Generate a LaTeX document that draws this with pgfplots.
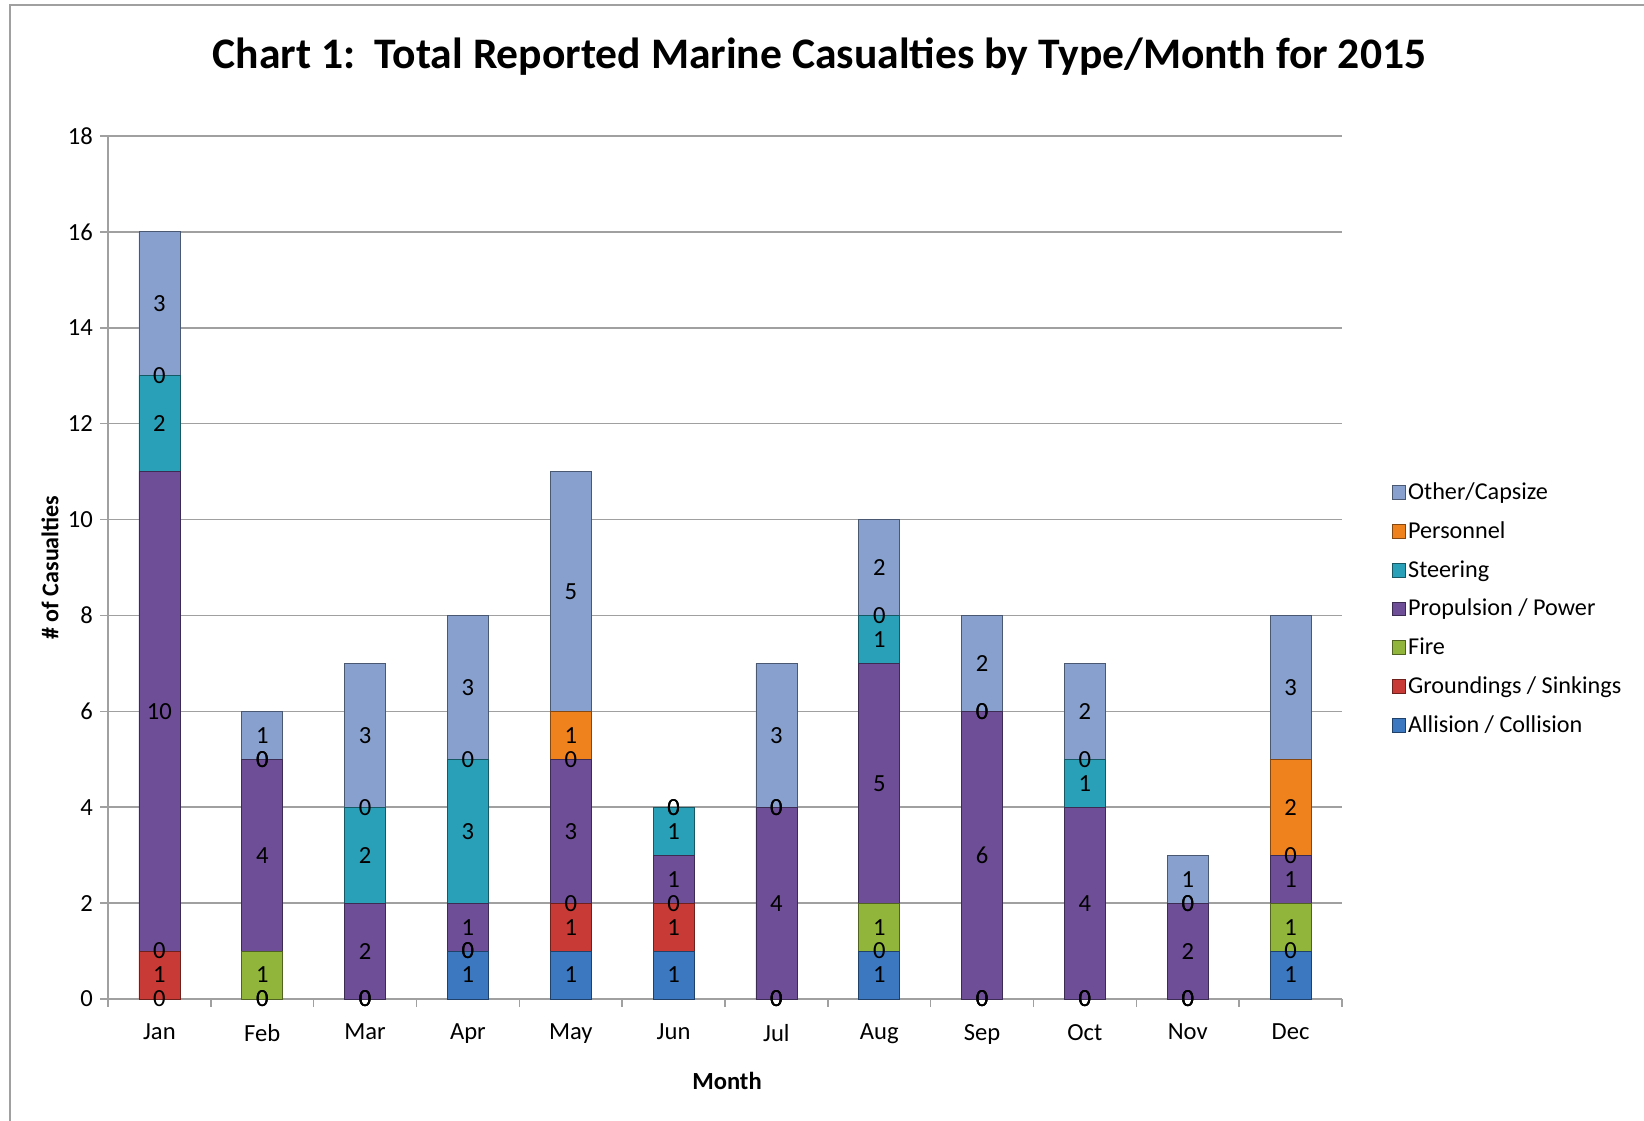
\documentclass[border=0pt]{standalone}
\usepackage{pgfplots}
\pgfplotsset{compat=1.18}
\usepackage{pgfplotstable}
\usepackage{fontspec}
\setmainfont{Carlito}
\definecolor{cAll}{HTML}{3B78C0}
\definecolor{cGro}{HTML}{C83A35}
\definecolor{cFir}{HTML}{91B43A}
\definecolor{cPro}{HTML}{6E4E96}
\definecolor{cSte}{HTML}{2AA0B8}
\definecolor{cPer}{HTML}{F0821E}
\definecolor{cOth}{HTML}{87A0CD}
\definecolor{gridgray}{HTML}{A0A0A0}
\pgfplotstableread{
x allision ground fire prop steer pers other
0 0 1 0 10 2 0 3
1 0 0 1 4 0 0 1
2 0 0 0 2 2 0 3
3 1 0 0 1 3 0 3
4 1 1 0 3 0 1 5
5 1 1 0 1 1 0 0
6 0 0 0 4 0 0 3
7 1 0 1 5 1 0 2
8 0 0 0 6 0 0 2
9 0 0 0 4 1 0 2
10 0 0 0 2 0 0 1
11 1 0 1 1 0 2 3
}\data
% data labels: x, middle of segment, value
\pgfplotstableread{
x y v
0 0 0
0 0.5 1
0 1 0
0 6 10
0 12 2
0 13 0
0 14.5 3
1 0 0
1 0 0
1 0.5 1
1 3 4
1 5 0
1 5 0
1 5.5 1
2 0 0
2 0 0
2 0 0
2 1 2
2 3 2
2 4 0
2 5.5 3
3 0.5 1
3 1 0
3 1 0
3 1.5 1
3 3.5 3
3 5 0
3 6.5 3
4 0.5 1
4 1.5 1
4 2 0
4 3.5 3
4 5 0
4 5.5 1
4 8.5 5
5 0.5 1
5 1.5 1
5 2 0
5 2.5 1
5 3.5 1
5 4 0
5 4 0
6 0 0
6 0 0
6 0 0
6 2 4
6 4 0
6 4 0
6 5.5 3
7 0.5 1
7 1 0
7 1.5 1
7 4.5 5
7 7.5 1
7 8 0
7 9 2
8 0 0
8 0 0
8 0 0
8 3 6
8 6 0
8 6 0
8 7 2
9 0 0
9 0 0
9 0 0
9 2 4
9 4.5 1
9 5 0
9 6 2
10 0 0
10 0 0
10 0 0
10 1 2
10 2 0
10 2 0
10 2.5 1
11 0.5 1
11 1 0
11 1.5 1
11 2.5 1
11 3 0
11 4 2
11 6.5 3
}\labels
\begin{document}
\begin{tikzpicture}
\useasboundingbox (-54pt,-60.5pt) rectangle (768pt,499.5pt);
\draw[gridgray, line width=0.8pt] (-49pt,-80pt) -- (-49pt,497pt) -- (800pt,497pt);
\begin{axis}[
  at={(0,0)}, anchor=south west,
  scale only axis, width=617pt, height=431.5pt,
  ybar stacked, bar width=20.5pt,
  xmin=-0.5, xmax=11.5, ymin=0, ymax=18,
  ytick={0,2,...,18},
  xtick={0,...,11},
  xticklabels={Jan,Feb,Mar,Apr,May,Jun,Jul,Aug,Sep,Oct,Nov,Dec},
  minor xtick={-0.5,0.5,...,11.5},
  major x tick style={draw=none},
  minor tick length=4pt, major tick length=4pt,
  tick align=outside,
  axis x line*=bottom, axis y line*=left,
  axis line style={gridgray, line width=0.8pt, -},
  tick style={gridgray, line width=0.8pt},
  ymajorgrids, grid style={gridgray, line width=0.8pt},
  ticklabel style={font=\fontsize{12.3}{14}\selectfont},
  /pgf/number format/assume math mode=true,
  xticklabel style={yshift=-5pt},
  title={\textbf{Chart 1:\ \ Total Reported Marine Casualties by Type/Month for 2015}},
  title style={at={(axis description cs:0.5765,1.078)}, anchor=center, font=\fontsize{21.8}{26}\selectfont},
  xlabel={\textbf{Month}},
  xlabel style={at={(axis description cs:0.5016,-0.095)}, anchor=center, font=\fontsize{12.3}{14}\selectfont},
  ylabel={\textbf{\# of Casualties}},
  ylabel style={at={(axis description cs:-0.047,0.5)}, anchor=center, font=\fontsize{12}{14}\selectfont},
  legend style={draw=none, fill=none, at={(axis description cs:1.04,0.452)}, anchor=west,
    font=\fontsize{12.1}{15}\selectfont, row sep=7.5pt, inner sep=0pt,
    nodes={inner sep=1pt}},
  legend cell align=left,
  reverse legend,
  legend image code/.code={\draw[#1, line width=0.4pt] (-1.8pt,-3.4pt) rectangle (5pt,3.4pt);},
]
\addplot[fill=cAll, draw=cAll!55!black] table[x=x,y=allision]{\data};
\addplot[fill=cGro, draw=cGro!55!black] table[x=x,y=ground]{\data};
\addplot[fill=cFir, draw=cFir!55!black] table[x=x,y=fire]{\data};
\addplot[fill=cPro, draw=cPro!55!black] table[x=x,y=prop]{\data};
\addplot[fill=cSte, draw=cSte!55!black] table[x=x,y=steer]{\data};
\addplot[fill=cPer, draw=cPer!55!black] table[x=x,y=pers]{\data};
\addplot[fill=cOth, draw=cOth!55!black] table[x=x,y=other]{\data};
\legend{Allision / Collision, Groundings / Sinkings, Fire, Propulsion / Power, Steering, Personnel, Other/Capsize}
\end{axis}
\begin{axis}[
  at={(0,0)}, anchor=south west,
  scale only axis, width=617pt, height=431.5pt,
  xmin=-0.5, xmax=11.5, ymin=0, ymax=18,
  hide axis, clip=false,
]
\addplot[draw=none, mark=none, nodes near coords, point meta=explicit,
  nodes near coords style={font=\fontsize{12.3}{14}\selectfont, text=black, anchor=center, inner sep=0pt},
  /pgf/number format/assume math mode=true]
  table[x=x, y=y, meta=v]{\labels};
\end{axis}
\end{tikzpicture}
\end{document}
